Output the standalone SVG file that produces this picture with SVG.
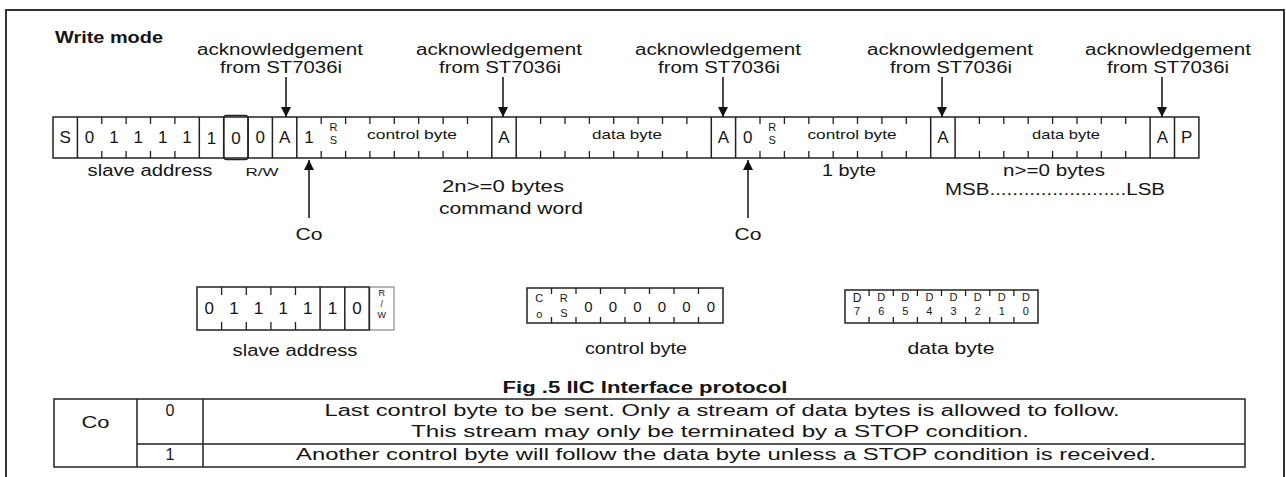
<svg xmlns="http://www.w3.org/2000/svg" width="1286" height="477" viewBox="0 0 1286 477">
<style>
text{font-family:"Liberation Sans",Arial,sans-serif;fill:#151515}
.t16{font-size:16px}
.b{font-weight:bold}
.c{font-size:17px;text-anchor:middle}
.s{font-size:11px;text-anchor:middle}
.m{text-anchor:middle}
.frame{fill:none;stroke:#333;stroke-width:2}
.box{fill:#fff;stroke:#222;stroke-width:1.5}
.sep{stroke:#222;stroke-width:1.5}
.tk{stroke:#222;stroke-width:1.3}
.ln{stroke:#111;stroke-width:1.5}
</style>
<defs>
<marker id="ah" viewBox="0 0 10 12" refX="10" refY="6" markerWidth="10" markerHeight="12" markerUnits="userSpaceOnUse" orient="auto">
<path d="M0,1 L10,6 L0,11 z" fill="#111"/>
</marker>
</defs>
<rect width="1286" height="477" fill="#fff"/>
<path class="frame" d="M6,477 V10 H1284 V477"/>
<text class="t16 b" x="55" y="43" textLength="108" lengthAdjust="spacingAndGlyphs">Write mode</text>

<g id="ack-labels">
<text class="t16 m" x="280" y="55" textLength="166" lengthAdjust="spacingAndGlyphs">acknowledgement</text>
<text class="t16 m" x="281" y="73" textLength="122" lengthAdjust="spacingAndGlyphs">from ST7036i</text>
<text class="t16 m" x="499" y="55" textLength="166" lengthAdjust="spacingAndGlyphs">acknowledgement</text>
<text class="t16 m" x="500" y="73" textLength="122" lengthAdjust="spacingAndGlyphs">from ST7036i</text>
<text class="t16 m" x="718" y="55" textLength="166" lengthAdjust="spacingAndGlyphs">acknowledgement</text>
<text class="t16 m" x="719" y="73" textLength="122" lengthAdjust="spacingAndGlyphs">from ST7036i</text>
<text class="t16 m" x="950" y="55" textLength="166" lengthAdjust="spacingAndGlyphs">acknowledgement</text>
<text class="t16 m" x="951" y="73" textLength="122" lengthAdjust="spacingAndGlyphs">from ST7036i</text>
<text class="t16 m" x="1168" y="55" textLength="166" lengthAdjust="spacingAndGlyphs">acknowledgement</text>
<text class="t16 m" x="1168" y="73" textLength="122" lengthAdjust="spacingAndGlyphs">from ST7036i</text>
</g>

<g id="frame-bar">
<rect class="box" x="53" y="117" width="1145.9" height="41"/>
<rect x="223.7" y="115.5" width="24.4" height="44" rx="3" fill="none" stroke="#222" stroke-width="1.5"/>
<path class="sep" d="M77.4,117V158 M199.3,117V158 M223.7,117V158 M248,117V158 M272.4,117V158 M296.8,117V158 M491.8,117V158 M516.2,117V158 M711.3,117V158 M735.6,117V158 M930.7,117V158 M955.1,117V158 M1150.1,117V158 M1174.5,117V158"/>
<path class="tk" d="M101.8,117v7M101.8,151v7 M126.1,117v7M126.1,151v7 M150.5,117v7M150.5,151v7 M174.9,117v7M174.9,151v7
M321.2,117v7M321.2,151v7 M345.6,117v7M345.6,151v7 M369.9,117v7M369.9,151v7 M394.3,117v7M394.3,151v7 M418.7,117v7M418.7,151v7 M443.1,117v7M443.1,151v7 M467.5,117v7M467.5,151v7
M540.6,117v7M540.6,151v7 M565,117v7M565,151v7 M589.4,117v7M589.4,151v7 M613.7,117v7M613.7,151v7 M638.1,117v7M638.1,151v7 M662.5,117v7M662.5,151v7 M686.9,117v7M686.9,151v7
M760,117v7M760,151v7 M784.4,117v7M784.4,151v7 M808.8,117v7M808.8,151v7 M833.2,117v7M833.2,151v7 M857.5,117v7M857.5,151v7 M881.9,117v7M881.9,151v7 M906.3,117v7M906.3,151v7
M979.4,117v7M979.4,151v7 M1003.8,117v7M1003.8,151v7 M1028.2,117v7M1028.2,151v7 M1052.6,117v7M1052.6,151v7 M1077,117v7M1077,151v7 M1101.3,117v7M1101.3,151v7 M1125.7,117v7M1125.7,151v7"/>
<text class="c" x="65.2" y="143">S</text>
<text class="c" x="89.6" y="143">0</text>
<text class="c" x="114" y="143">1</text>
<text class="c" x="138.3" y="143">1</text>
<text class="c" x="162.7" y="143">1</text>
<text class="c" x="187.1" y="143">1</text>
<text class="c" x="211.5" y="144">1</text>
<text class="c" x="235.9" y="144">0</text>
<text class="c" x="260.2" y="143">0</text>
<text class="c" x="284.6" y="143">A</text>
<text class="c" x="309" y="143">1</text>
<text class="s" x="333.4" y="131">R</text>
<text class="s" x="333.4" y="144">S</text>
<text class="m" x="412" y="139" font-size="13" textLength="90" lengthAdjust="spacingAndGlyphs">control byte</text>
<text class="c" x="504" y="143">A</text>
<text class="m" x="627" y="139" font-size="13" textLength="70" lengthAdjust="spacingAndGlyphs">data byte</text>
<text class="c" x="723.5" y="143">A</text>
<text class="c" x="747.8" y="143">0</text>
<text class="s" x="772.2" y="131">R</text>
<text class="s" x="772.2" y="144">S</text>
<text class="m" x="852" y="139" font-size="13" textLength="89" lengthAdjust="spacingAndGlyphs">control byte</text>
<text class="c" x="942.9" y="143">A</text>
<text class="m" x="1066" y="139" font-size="13" textLength="68" lengthAdjust="spacingAndGlyphs">data byte</text>
<text class="c" x="1162.3" y="143">A</text>
<text class="c" x="1186.7" y="143">P</text>
</g>

<g id="bar-labels">
<text class="t16 m" x="150" y="176" textLength="125" lengthAdjust="spacingAndGlyphs">slave address</text>
<text class="m" x="262" y="176" font-size="11" textLength="33" lengthAdjust="spacingAndGlyphs">R/W</text>
<text class="t16 m" x="503" y="192" textLength="122" lengthAdjust="spacingAndGlyphs">2n&gt;=0 bytes</text>
<text class="t16 m" x="511" y="214" textLength="144" lengthAdjust="spacingAndGlyphs">command word</text>
<text class="t16 m" x="849" y="176" textLength="54" lengthAdjust="spacingAndGlyphs">1 byte</text>
<text class="t16 m" x="1054" y="176" textLength="102" lengthAdjust="spacingAndGlyphs">n&gt;=0 bytes</text>
<text class="t16" x="945" y="195" textLength="220" lengthAdjust="spacingAndGlyphs">MSB........................LSB</text>
<text class="t16 m" x="309" y="240" textLength="27" lengthAdjust="spacingAndGlyphs">Co</text>
<text class="t16 m" x="748" y="240" textLength="27" lengthAdjust="spacingAndGlyphs">Co</text>
</g>

<g id="connectors">
<line class="ln" x1="286" y1="77" x2="286" y2="117" marker-end="url(#ah)"/>
<line class="ln" x1="503" y1="77" x2="503" y2="117" marker-end="url(#ah)"/>
<line class="ln" x1="723" y1="77" x2="723" y2="117" marker-end="url(#ah)"/>
<line class="ln" x1="942" y1="77" x2="942" y2="117" marker-end="url(#ah)"/>
<line class="ln" x1="1162" y1="77" x2="1162" y2="117" marker-end="url(#ah)"/>
<line class="ln" x1="309" y1="218" x2="309" y2="160" marker-end="url(#ah)"/>
<line class="ln" x1="748" y1="218" x2="748" y2="160" marker-end="url(#ah)"/>
</g>

<g id="slave-address-box">
<rect class="box" x="197" y="287" width="172.4" height="43"/>
<rect x="369.4" y="287" width="24.6" height="43" fill="#fff" stroke="#888" stroke-width="1.2"/>
<path class="sep" d="M320.1,287V330 M344.8,287V330 M369.4,287V330"/>
<path class="tk" d="M221.6,287v8M221.6,322v8 M246.3,287v8M246.3,322v8 M270.9,287v8M270.9,322v8 M295.5,287v8M295.5,322v8"/>
<text class="c" x="209.3" y="314">0</text>
<text class="c" x="233.9" y="314">1</text>
<text class="c" x="258.6" y="314">1</text>
<text class="c" x="283.2" y="314">1</text>
<text class="c" x="307.8" y="314">1</text>
<text class="c" x="332.4" y="314">1</text>
<text class="c" x="357.1" y="314">0</text>
<text class="m" x="381.7" y="296" font-size="9" fill="#666">R</text>
<text class="m" x="381.7" y="307" font-size="9" fill="#666">/</text>
<text class="m" x="381.7" y="318" font-size="9" fill="#666">W</text>
<text class="t16 m" x="295" y="356" textLength="125" lengthAdjust="spacingAndGlyphs">slave address</text>
</g>

<g id="control-byte-box">
<rect class="box" x="527" y="288" width="196" height="35"/>
<path class="tk" d="M551.5,288v6M551.5,317v6 M576,288v6M576,317v6 M600.5,288v6M600.5,317v6 M625,288v6M625,317v6 M649.5,288v6M649.5,317v6 M674,288v6M674,317v6 M698.5,288v6M698.5,317v6"/>
<text class="s" x="539.3" y="302">C</text>
<text class="s" x="539.3" y="318">o</text>
<text class="s" x="563.8" y="302">R</text>
<text class="s" x="563.8" y="317">S</text>
<text class="m" x="588.3" y="312" font-size="15">0</text>
<text class="m" x="612.8" y="312" font-size="15">0</text>
<text class="m" x="637.3" y="312" font-size="15">0</text>
<text class="m" x="661.8" y="312" font-size="15">0</text>
<text class="m" x="686.3" y="312" font-size="15">0</text>
<text class="m" x="710.8" y="312" font-size="15">0</text>
<text class="t16 m" x="636" y="354" textLength="102" lengthAdjust="spacingAndGlyphs">control byte</text>
</g>

<g id="data-byte-box">
<rect class="box" x="845" y="290" width="193" height="33"/>
<path class="tk" d="M869.1,290v6M869.1,317v6 M893.3,290v6M893.3,317v6 M917.4,290v6M917.4,317v6 M941.5,290v6M941.5,317v6 M965.6,290v6M965.6,317v6 M989.8,290v6M989.8,317v6 M1013.9,290v6M1013.9,317v6"/>
<text class="m" x="857.1" y="302" font-size="12">D</text>
<text class="s" x="857.1" y="315">7</text>
<text class="s" x="881.2" y="301">D</text>
<text class="s" x="881.2" y="315">6</text>
<text class="s" x="905.3" y="301">D</text>
<text class="s" x="905.3" y="315">5</text>
<text class="s" x="929.4" y="301">D</text>
<text class="s" x="929.4" y="315">4</text>
<text class="s" x="953.6" y="301">D</text>
<text class="s" x="953.6" y="315">3</text>
<text class="s" x="977.7" y="301">D</text>
<text class="s" x="977.7" y="315">2</text>
<text class="s" x="1001.8" y="301">D</text>
<text class="s" x="1001.8" y="315">1</text>
<text class="s" x="1025.9" y="301">D</text>
<text class="s" x="1025.9" y="315">0</text>
<text class="t16 m" x="951" y="354" textLength="87" lengthAdjust="spacingAndGlyphs">data byte</text>
</g>

<text class="t16 b m" x="645" y="393" textLength="285" lengthAdjust="spacingAndGlyphs">Fig .5 IIC Interface protocol</text>

<g id="co-table">
<rect x="54" y="399" width="1191" height="68" fill="#fff" stroke="#222" stroke-width="1.5"/>
<path class="sep" d="M137,399V467 M203,399V467 M137,444H1245"/>
<text class="t16 m" x="95.5" y="428" textLength="28" lengthAdjust="spacingAndGlyphs">Co</text>
<text class="t16 m" x="170" y="416">0</text>
<text class="t16 m" x="170" y="460">1</text>
<text class="t16 m" x="722" y="416" textLength="795" lengthAdjust="spacingAndGlyphs">Last control byte to be sent. Only a stream of data bytes is allowed to follow.</text>
<text class="t16 m" x="720" y="437" textLength="618" lengthAdjust="spacingAndGlyphs">This stream may only be terminated by a STOP condition.</text>
<text class="t16 m" x="726" y="460" textLength="860" lengthAdjust="spacingAndGlyphs">Another control byte will follow the data byte unless a STOP condition is received.</text>
</g>
</svg>
